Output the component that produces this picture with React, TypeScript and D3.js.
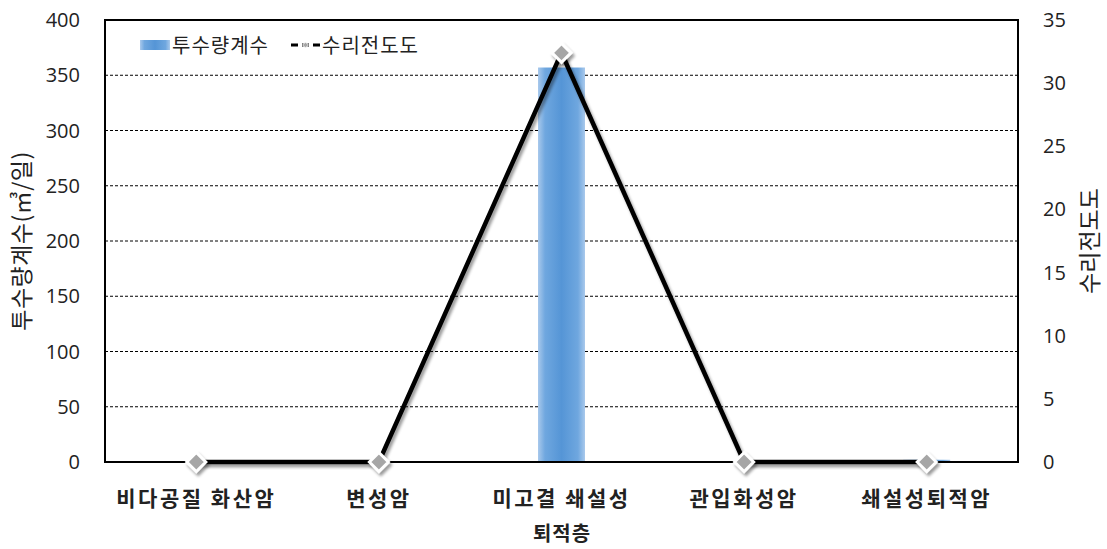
import React from "react";
import * as d3 from "d3";

const categories = ["비다공질 화산암", "변성암", "미고결 쇄설성", "관입화성암", "쇄설성퇴적암"];
const transmissivity = [0, 0.6, 357, 0.6, 2];
const conductivity = [0, 0, 32.4, 0, 0];
const leftTicks = [0, 50, 100, 150, 200, 250, 300, 350, 400];
const rightTicks = [0, 5, 10, 15, 20, 25, 30, 35];

const W = 1107, H = 549;
const m = { left: 105, right: 1018, top: 20, bottom: 462 };
const FONT = "'Noto Sans CJK KR', 'Noto Sans', sans-serif";
const NUMFONT = "'Open Sans', 'Noto Sans', sans-serif";

export default function App() {
  const x = d3.scaleBand<string>().domain(categories).range([m.left, m.right]);
  const yL = d3.scaleLinear().domain([0, 400]).range([m.bottom, m.top]);
  const yR = d3.scaleLinear().domain([0, 35]).range([m.bottom, m.top]);
  const cx = (c: string) => (x(c) as number) + x.bandwidth() / 2;
  const line = d3.line<number>().x((_, i) => cx(categories[i])).y((d) => yR(d));
  const barW = 47;
  const ds = 9.5;
  const diamond = (px: number, py: number, s: number) =>
    `M${px},${py - s}L${px + s},${py}L${px},${py + s}L${px - s},${py}Z`;

  return (
    <svg width={W} height={H} style={{ position: "absolute", left: 0, top: 0 }} fontFamily={FONT}>
      <defs>
        <linearGradient id="barg" x1="0" x2="1" y1="0" y2="0">
          <stop offset="0" stopColor="#a9c9ec" />
          <stop offset="0.15" stopColor="#6fa7df" />
          <stop offset="0.5" stopColor="#5595d6" />
          <stop offset="0.85" stopColor="#6fa7df" />
          <stop offset="1" stopColor="#a9c9ec" />
        </linearGradient>
        <filter id="sh" x="-50%" y="-50%" width="200%" height="200%">
          <feGaussianBlur in="SourceAlpha" stdDeviation="1.5" />
          <feOffset dx="2" dy="3" result="b" />
          <feComponentTransfer><feFuncA type="linear" slope="0.4" /></feComponentTransfer>
          <feMerge><feMergeNode /><feMergeNode in="SourceGraphic" /></feMerge>
        </filter>
      </defs>
      <rect x={0} y={0} width={W} height={H} fill="#fff" />
      {leftTicks.slice(1, -1).map((t) => (
        <line key={t} x1={m.left} x2={m.right} y1={yL(t)} y2={yL(t)} stroke="#000" strokeWidth={1} strokeDasharray="3,2" />
      ))}
      {categories.map((c, i) => (
        <rect key={c} x={cx(c) - barW / 2} y={yL(transmissivity[i])} width={barW}
          height={m.bottom - yL(transmissivity[i])} fill="url(#barg)" />
      ))}
      <rect x={m.left} y={m.top} width={m.right - m.left} height={m.bottom - m.top} fill="none" stroke="#000" strokeWidth={2} />
      <path d={line(conductivity) as string} fill="none" stroke="#000" strokeWidth={4.5} filter="url(#sh)" />
      {conductivity.map((v, i) => (
        <path key={i} d={diamond(cx(categories[i]), yR(v), ds)} fill="#a6a6a6" stroke="#fff" strokeWidth={3} filter="url(#sh)" />
      ))}
      {leftTicks.map((t) => (
        <text key={t} x={80} y={yL(t)} dy="0.35em" textAnchor="end" fontSize={20} fontFamily={NUMFONT} fill="#222">{t}</text>
      ))}
      {rightTicks.map((t) => (
        <text key={t} x={1043} y={yR(t)} dy="0.35em" textAnchor="start" fontSize={20} fontFamily={NUMFONT} fill="#222">{t}</text>
      ))}
      {categories.map((c) => (
        <text key={c} x={cx(c)} y={506} textAnchor="middle" fontSize={21} letterSpacing={2.5} fontWeight="bold" fill="#222">{c}</text>
      ))}
      <text x={562} y={541} textAnchor="middle" fontSize={20} letterSpacing={1} fontWeight="bold" fill="#222">퇴적층</text>
      <text transform={`translate(30,${(m.top + m.bottom) / 2}) rotate(-90)`} textAnchor="middle" fontSize={23} letterSpacing={0.5} fill="#222">투수량계수(㎥/일)</text>
      <text transform={`translate(1098,${(m.top + m.bottom) / 2}) rotate(-90)`} textAnchor="middle" fontSize={23} fill="#222">수리전도도</text>
      <g>
        <rect x={140} y={40} width={30} height={10} fill="url(#barg)" />
        <text x={172} y={46} dy="0.35em" fontSize={20} letterSpacing={1} fill="#222">투수량계수</text>
        <line x1={291} x2={320} y1={45} y2={45} stroke="#000" strokeWidth={3} strokeDasharray="7,4" />
        <path d={diamond(305.5, 45, 3)} fill="#a6a6a6" stroke="#fff" strokeWidth={1} />
        <text x={322} y={46} dy="0.35em" fontSize={20} letterSpacing={1} fill="#222">수리전도도</text>
      </g>
    </svg>
  );
}
